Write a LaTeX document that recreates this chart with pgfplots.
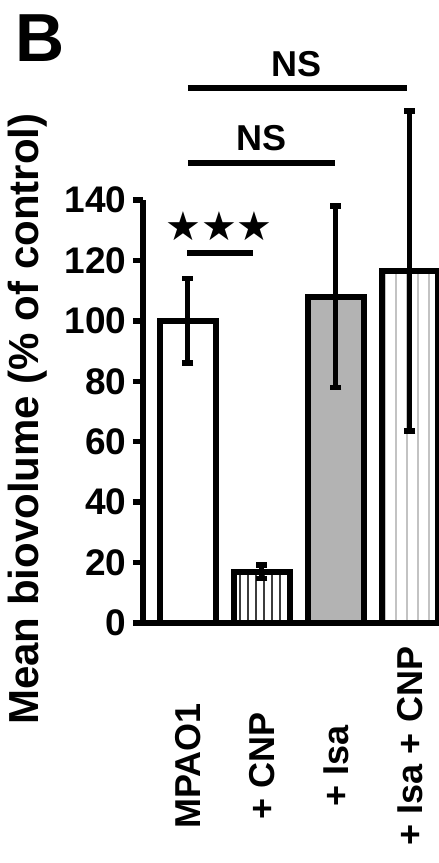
\documentclass[border=0pt]{standalone}
\usepackage{fontspec}
\setmainfont{Liberation Sans}
\newfontfamily\symfont{DejaVu Sans}
\usepackage{pgfplots}
\pgfplotsset{compat=1.18}
\usetikzlibrary{patterns.meta}
\definecolor{bargray}{RGB}{179,179,179}
\definecolor{stripedark}{RGB}{60,60,60}
\definecolor{stripelight}{RGB}{195,195,195}
\begin{document}
\begin{tikzpicture}
\useasboundingbox (0,0) rectangle (439pt,863pt);
\begin{axis}[
  at={(143pt,240pt)}, anchor=south west,
  width=280pt, height=423pt, scale only axis,
  xmin=-0.608, xmax=3.176, ymin=0, ymax=140,
  axis x line=bottom, axis y line=left,
  axis line style={line width=5.5pt,-},
  clip=false,
  ytick={0,20,...,140},
  xtick={0,1,2,3},
  xticklabels={MPAO1,+ CNP,+ Isa,\hspace*{40pt}+ Isa + CNP},
  xtick style={draw=none},
  ytick style={line width=5.5pt, black},
  tick align=outside,
  major tick length=10pt,
  /pgf/number format/assume math mode=true,
  yticklabel style={font=\bfseries\fontsize{37}{42}\selectfont, xshift=-3pt},
  xticklabel style={font=\bfseries\fontsize{36}{42}\selectfont, rotate=90, anchor=center, xshift=-133pt},
  ylabel={Mean biovolume (\% of control)},
  ylabel style={at={(axis description cs:-0.411,0.482)}, anchor=center,
    font=\bfseries\fontsize{42}{48}\selectfont},
  error bars/error bar style={line width=5pt, black},
  error bars/error mark options={rotate=90, mark size=5.5pt, line width=5.5pt, black},
]
\addplot[ybar, bar width=56pt, bar shift=0pt, fill=white, draw=black, line width=6pt,
  error bars/.cd, y dir=both, y explicit]
  coordinates {(0,100) +- (0,14)};
\addplot[ybar, bar width=56pt, bar shift=0pt, draw=black, line width=6pt,
  pattern={Lines[angle=90, distance=8pt, line width=2.2pt]}, pattern color=stripedark,
  error bars/.cd, y dir=both, y explicit]
  coordinates {(1,17) +- (0,2.2)};
\addplot[ybar, bar width=56pt, bar shift=0pt, fill=bargray, draw=black, line width=6pt,
  error bars/.cd, y dir=both, y explicit]
  coordinates {(2,108) +- (0,30)};
\addplot[ybar, bar width=56pt, bar shift=0pt, draw=black, line width=6pt,
  pattern={Lines[angle=90, distance=11pt, line width=2.8pt]}, pattern color=stripelight,
  error bars/.cd, y dir=both, y explicit]
  coordinates {(3,116.5) +- (0,53)};
% significance annotations
\draw[line width=5.5pt] (axis cs:-0.01,122.5) -- (axis cs:0.88,122.5);
\node[font=\symfont\fontsize{40}{42}\selectfont] at (axis cs:0.42,131.5) {★★★};
\draw[line width=5.5pt] (axis cs:0,152.3) -- (axis cs:1.99,152.3);
\node[font=\bfseries\fontsize{36}{40}\selectfont] at (axis cs:1.0,160.5) {NS};
\draw[line width=5.5pt] (axis cs:0,177) -- (axis cs:2.96,177);
\node[font=\bfseries\fontsize{36}{40}\selectfont] at (axis cs:1.47,185) {NS};
\node[font=\bfseries\fontsize{68}{70}\selectfont] at (axis description cs:-0.368,1.383) {B};
\end{axis}
\end{tikzpicture}
\end{document}
